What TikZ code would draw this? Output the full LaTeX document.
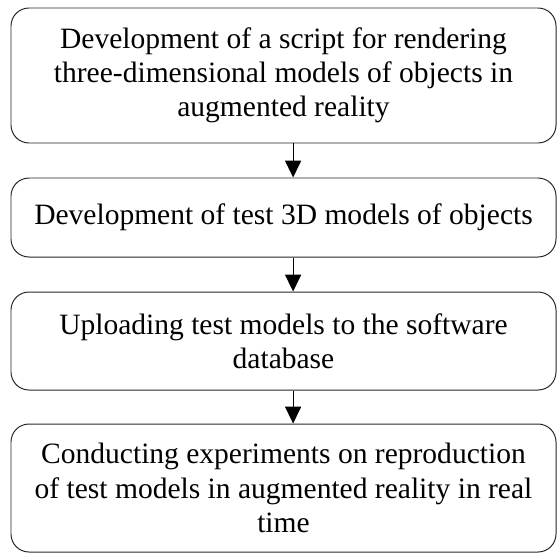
\documentclass[tikz,border=0pt]{standalone}
\usepackage{fontspec}
\setmainfont{Liberation Serif}
\usetikzlibrary{arrows.meta,positioning,calc}

\begin{document}
\begin{tikzpicture}[
    stage/.style={rectangle, draw=black!85, line width=0.7pt, rounded corners=0.45cm, minimum width=13.625cm, align=center, font=\fontsize{21}{24.3}\selectfont, inner sep=2pt},
    arrow/.style={-{Triangle[length=0.42cm,width=0.4cm]}, line width=0.8pt}
]
    \useasboundingbox (0,0) rectangle (13.925,-13.85);

    % stages of the work
    \node[stage, minimum height=3.375cm] (dev) at (7.0875,-1.8875) {Development of a script for rendering\\three-dimensional models of objects in\\augmented reality};
    \node[stage, minimum height=1.975cm] (models) at (7.0875,-5.4375) {Development of test 3D models of objects};
    \node[stage, minimum height=2.45cm] (upload) at (7.0875,-8.525) {Uploading test models to the software\\database};
    \node[stage, minimum height=3.2cm] (exper) at (7.0875,-12.2) {Conducting experiments on reproduction\\of test models in augmented reality in real\\time};

    % arrows between stages
    \draw[arrow] ([xshift=0.24cm]dev.south) -- ([xshift=0.24cm]models.north);
    \draw[arrow] ([xshift=0.24cm]models.south) -- ([xshift=0.24cm]upload.north);
    \draw[arrow] ([xshift=0.24cm]upload.south) -- ([xshift=0.24cm]exper.north);
\end{tikzpicture}
\end{document}
